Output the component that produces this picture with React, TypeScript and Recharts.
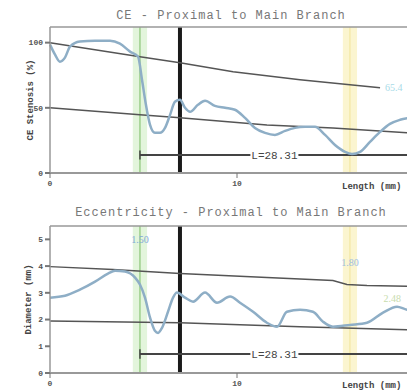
import {
  Line,
  LineChart,
  ReferenceArea,
  ReferenceDot,
  ReferenceLine,
  XAxis,
  YAxis,
} from "recharts";

// distance along the vessel (mm)
const ceDist = [0, 0.27, 0.53, 0.8, 1.07, 1.6, 2.41, 3.21, 3.74, 4.28, 4.71, 4.92, 5.13, 5.35, 5.61, 5.88, 6.15, 6.42, 6.68, 6.95, 7.22, 7.49, 7.91, 8.29, 8.82, 9.36, 9.89, 10.43, 10.96, 11.5, 12.03, 12.57, 13.1, 13.64, 14.17, 14.71, 15.24, 15.78, 16.15, 16.58, 17.11, 17.65, 18.18, 18.72, 19.25, 20];
const ceValues = [98.5, 90.8, 85.4, 88.5, 96.9, 100.8, 101.5, 101.5, 99.2, 93.1, 89.2, 71.5, 52.3, 36.9, 30.8, 30.8, 34.6, 44.6, 54.6, 56.2, 50, 46.9, 52.3, 55.4, 51.5, 50, 48.5, 42.3, 34.6, 30.8, 29.2, 32.3, 34.6, 35.4, 35.4, 29.2, 21.5, 16.2, 14.6, 16.2, 23.8, 31.5, 37.7, 40.8, 42.3, 43.1];

const ceUpperDist = [0, 4.81, 6.95, 9.79, 13.37, 16.04, 17.65];
const ceUpperValues = [100, 89.2, 84.6, 77.7, 71.5, 67.7, 65.4];
const ceLowerDist = [0, 4.81, 6.95, 11.6, 15.13, 19.09, 20];
const ceLowerValues = [50, 44.6, 42.3, 36.9, 34.6, 30.8, 30.2];

const diamDist = [0, 0.8, 1.6, 2.41, 3.1, 3.48, 4.01, 4.55, 4.81, 5.08, 5.35, 5.61, 5.78, 5.99, 6.31, 6.58, 6.79, 7.22, 7.65, 8.29, 8.93, 9.63, 10.16, 10.86, 11.6, 12.14, 12.67, 13.37, 14.06, 14.6, 15.13, 16.04, 16.95, 17.81, 18.56, 19.09, 20];
const diamValues = [2.82, 2.89, 3.12, 3.42, 3.72, 3.83, 3.8, 3.57, 3.31, 2.82, 2.07, 1.58, 1.5, 1.69, 2.29, 2.82, 3.01, 2.82, 2.67, 3.01, 2.63, 2.86, 2.63, 2.29, 1.88, 1.73, 2.29, 2.37, 2.29, 1.92, 1.73, 1.8, 1.88, 2.26, 2.48, 2.37, 2.33];

const diamUpperDist = [0, 3.37, 6.95, 11.6, 15.13, 15.88, 16.95, 20];
const diamUpperValues = [3.98, 3.87, 3.72, 3.57, 3.46, 3.31, 3.27, 3.23];
const diamLowerDist = [0, 6.95, 13.37, 19.09, 20];
const diamLowerValues = [1.95, 1.88, 1.73, 1.62, 1.6];

const xTicks = [0, 10];
const ceTicks = [0, 50, 100];
const diamTicks = [0, 1, 2, 3, 4, 5];

const proximalMark = 4.81;
const distalMark = 16.04;
const branchMark = 6.95;
const segmentLength = "L=28.31";
const minDiamLabel = "1.50";
const distalDiamLabel = "1.80";
const endDiamLabel = "2.48";

const pts = (xs: number[], ys: number[]) => xs.map((x, i) => ({ x, y: ys[i] }));

const W = 424;
const H = 195;
const mono = "'Liberation Mono', 'DejaVu Sans Mono', monospace";
const tickStyle = { fontSize: 8, fontWeight: 700, fill: "#555", fontFamily: mono };
const axisNameStyle = { fontSize: 9, fontWeight: 700, fontFamily: mono, fill: "#444" };

const LengthTag = ({ cx, cy }: { cx?: number; cy?: number }) => (
  <g>
    <rect x={(cx ?? 0) - 24} y={(cy ?? 0) - 7} width={48} height={14} fill="#fff" />
    <text x={cx} y={(cy ?? 0) + 4} textAnchor="middle" fontSize={11} fontFamily={mono} fill="#444">
      {segmentLength}
    </text>
  </g>
);

const Markers = ({ top, lY, lTick }: { top: number; lY: number; lTick: number }) => [
  <ReferenceArea key="ga" x1={proximalMark - 0.38} x2={proximalMark + 0.38} y1={0} y2={top} fill="#dcf3d3" fillOpacity={0.8} stroke="none" />,
  <ReferenceArea key="ya" x1={distalMark - 0.38} x2={distalMark + 0.38} y1={0} y2={top} fill="#fbf4cb" fillOpacity={0.9} stroke="none" />,
  <ReferenceLine key="gl" x={proximalMark} stroke="#9ccf8c" strokeWidth={1.5} />,
  <ReferenceLine key="yl" x={distalMark} stroke="#f1e49a" strokeWidth={1} />,
  <ReferenceLine key="bl" x={branchMark} stroke="#1a1a1a" strokeWidth={4} />,
  <ReferenceLine key="top" y={top} stroke="#999" strokeWidth={1.5} />,
  <ReferenceLine key="ls" segment={[{ x: proximalMark, y: lY }, { x: 20, y: lY }]} stroke="#444" strokeWidth={2} />,
  <ReferenceLine key="lt" segment={[{ x: proximalMark, y: lY - lTick }, { x: proximalMark, y: lY + lTick }]} stroke="#444" strokeWidth={1.5} />,
  <ReferenceDot key="lbl" x={12.0} y={lY} r={0} shape={LengthTag} />,
];

const Title = ({ top, text }: { top: number; text: string }) => (
  <div
    style={{
      position: "absolute",
      top,
      left: 0,
      width: 462,
      textAlign: "center",
      fontFamily: mono,
      fontSize: 12,
      letterSpacing: 1,
      color: "#777",
      whiteSpace: "nowrap",
    }}
  >
    {text}
  </div>
);

const AxisName = ({ top }: { top: number }) => (
  <div style={{ position: "absolute", top, left: 342, fontFamily: mono, fontSize: 9, fontWeight: 700, color: "#444", whiteSpace: "nowrap" }}>
    Length (mm)
  </div>
);

export default function App() {
  return (
    <div style={{ position: "absolute", left: 0, top: 0, width: 407, height: 391, overflow: "hidden", background: "#fff" }}>
      <Title top={9} text="CE - Proximal to Main Branch" />
      <div style={{ position: "absolute", left: 0, top: 0 }}>
        <LineChart width={W} height={H} margin={{ top: 27, right: 0, bottom: 0, left: 0 }}>
          <XAxis type="number" dataKey="x" domain={[0, 20]} ticks={xTicks} tick={tickStyle} tickSize={5} height={22} axisLine={{ stroke: "#999", strokeWidth: 2 }} tickLine={{ stroke: "#777" }} />
          <YAxis type="number" dataKey="y" domain={[0, 112]} ticks={ceTicks} tick={tickStyle} tickSize={5} width={50} axisLine={{ stroke: "#999", strokeWidth: 1.5 }} tickLine={{ stroke: "#777", strokeWidth: 2 }}
            label={{ value: "CE Stenosis (%)", angle: -90, position: "center", dx: 5, style: axisNameStyle }} />
          {Markers({ top: 112, lY: 13.8, lTick: 3.5 })}
          <Line data={pts(ceUpperDist, ceUpperValues)} dataKey="y" type="linear" stroke="#555" strokeWidth={1.5} dot={false} isAnimationActive={false} />
          <Line data={pts(ceLowerDist, ceLowerValues)} dataKey="y" type="linear" stroke="#555" strokeWidth={1.5} dot={false} isAnimationActive={false} />
          <Line data={pts(ceDist, ceValues)} dataKey="y" type="monotone" stroke="#8eaec6" strokeWidth={2.5} dot={false} isAnimationActive={false} />
          <ReferenceDot x={17.65} y={65.4} r={0} label={{ value: "65.4", position: "right", fill: "#a8dbe8", fontSize: 10 }} />
        </LineChart>
      </div>
      <AxisName top={182} />

      <Title top={206} text="Eccentricity - Proximal to Main Branch" />
      <div style={{ position: "absolute", left: 0, top: 200 }}>
        <LineChart width={W} height={H} margin={{ top: 26, right: 0, bottom: 0, left: 0 }}>
          <XAxis type="number" dataKey="x" domain={[0, 20]} ticks={xTicks} tick={tickStyle} tickSize={5} height={22} axisLine={{ stroke: "#999", strokeWidth: 2 }} tickLine={{ stroke: "#777" }} />
          <YAxis type="number" dataKey="y" domain={[0, 5.5]} ticks={diamTicks} tick={tickStyle} tickSize={5} width={50} axisLine={{ stroke: "#999", strokeWidth: 1.5 }} tickLine={{ stroke: "#777", strokeWidth: 2 }}
            label={{ value: "Diameter (mm)", angle: -90, position: "center", dx: 3, style: axisNameStyle }} />
          {Markers({ top: 5.5, lY: 0.71, lTick: 0.18 })}
          <Line data={pts(diamUpperDist, diamUpperValues)} dataKey="y" type="linear" stroke="#555" strokeWidth={1.5} dot={false} isAnimationActive={false} />
          <Line data={pts(diamLowerDist, diamLowerValues)} dataKey="y" type="linear" stroke="#555" strokeWidth={1.5} dot={false} isAnimationActive={false} />
          <Line data={pts(diamDist, diamValues)} dataKey="y" type="monotone" stroke="#8eaec6" strokeWidth={2.5} dot={false} isAnimationActive={false} />
          <ReferenceDot x={proximalMark} y={5.0} r={0} label={{ value: minDiamLabel, position: "center", fill: "#7fa9d6", fontSize: 10 }} />
          <ReferenceDot x={distalMark} y={4.15} r={0} label={{ value: distalDiamLabel, position: "center", fill: "#9dbde0", fontSize: 10 }} />
          <ReferenceDot x={18.3} y={2.8} r={0} label={{ value: endDiamLabel, position: "center", fill: "#c8dcae", fontSize: 10 }} />
        </LineChart>
      </div>
      <AxisName top={381} />
    </div>
  );
}
